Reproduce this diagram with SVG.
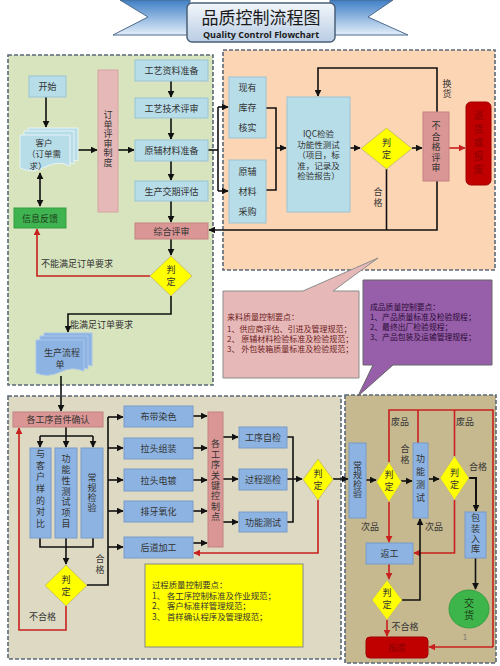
<svg xmlns="http://www.w3.org/2000/svg" width="500" height="666" viewBox="0 0 500 666">
<defs>
<linearGradient id="rib" x1="0" y1="0" x2="0" y2="1"><stop offset="0" stop-color="#3f7fc6"/><stop offset="1" stop-color="#e3eef9"/></linearGradient>
<linearGradient id="tb" x1="0" y1="0" x2="0" y2="1"><stop offset="0" stop-color="#f2f6fb"/><stop offset="1" stop-color="#b9cde4"/></linearGradient>
<marker id="ab" viewBox="0 0 10 10" refX="9" refY="5" markerWidth="7" markerHeight="7" markerUnits="userSpaceOnUse" orient="auto-start-reverse"><path d="M0,0 L10,5 L0,10 z" fill="#111"/></marker>
<marker id="ar" viewBox="0 0 10 10" refX="9" refY="5" markerWidth="7" markerHeight="7" markerUnits="userSpaceOnUse" orient="auto"><path d="M0,0 L10,5 L0,10 z" fill="#c8201e"/></marker>
<style>
.t{font-family:"Noto Sans CJK SC","Noto Sans",sans-serif;font-size:9px;fill:#333;text-anchor:middle}
.s{text-anchor:start}
.v{writing-mode:vertical-rl}
.pan{stroke:#5a6878;stroke-width:1.6;stroke-dasharray:4 2}
.lb{fill:#b7dde8;stroke:#9cc3d3;stroke-width:1}
.mb{fill:#8db3e2;stroke:#7a9cc8;stroke-width:1}
.pk{fill:#e6b9b8;stroke:#d4a3a2;stroke-width:1}
.pd{fill:#d99694;stroke:#c48280;stroke-width:1}
.dm{fill:#ffff00;stroke:#c9c070;stroke-width:1}
.rd{fill:#c00000;stroke:#a00000;stroke-width:1}
.k{fill:none;stroke:#111;stroke-width:1.6}
.ka{fill:none;stroke:#111;stroke-width:1.6;marker-end:url(#ab)}
.r{fill:none;stroke:#c8201e;stroke-width:1.6}
.ra{fill:none;stroke:#c8201e;stroke-width:1.6;marker-end:url(#ar)}
</style>
</defs>
<rect width="500" height="666" fill="#ffffff"/>

<g id="title">
<polygon points="190,0 120,0 148,17 113,35 190,35" fill="url(#rib)" stroke="#4d6b8c" stroke-width="1"/>
<polygon points="330,0 393,0 368,17 408,35 330,35" fill="url(#rib)" stroke="#4d6b8c" stroke-width="1"/>
<rect x="226" y="0" width="70" height="4" fill="#ffffff"/>
<rect x="187" y="3" width="148" height="39" rx="5" fill="url(#tb)" stroke="#4a6078" stroke-width="1.5"/>
<text x="261" y="24" class="t" style="font-size:17px;fill:#1a1a1a">品质控制流程图</text>
<text x="261" y="38" class="t" style="font-family:'Open Sans','Liberation Sans',sans-serif;font-size:9px;font-weight:bold;fill:#1a1a1a">Quality Control Flowchart</text>
</g>

<g id="panels">
<rect x="8" y="55" width="205" height="330" fill="#d7e4bd" class="pan"/>
<rect x="223" y="50" width="272" height="220" fill="#fcd5b4" class="pan"/>
<rect x="8" y="396" width="333" height="263" fill="#ddd9c3" class="pan"/>
<rect x="345" y="395" width="151" height="268" fill="#c6b88f" class="pan"/>
</g>

<g id="connectors">
<path class="ka" d="M46,97 V127"/>
<path class="k" d="M40,173 V206" marker-start="url(#ab)" marker-end="url(#ab)"/>
<path class="ka" d="M77,150 H97"/>
<path class="ka" d="M118,150 H134"/>
<path class="ka" d="M171,81 V97"/>
<path class="ka" d="M171,118 V139"/>
<path class="ka" d="M171,161 V180"/>
<path class="ka" d="M171,201 V222"/>
<path class="ka" d="M171,239 V255"/>
<path class="ra" d="M150,276 H37 V229"/>
<path class="ka" d="M171,296 V314 H68 V332"/>
<path class="ka" d="M61,376 V411"/>
<path class="k" d="M208,150 H218"/>
<path class="k" d="M218,107 V191"/>
<path class="ka" d="M218,107 H228"/>
<path class="ka" d="M218,191 H228"/>
<path class="k" d="M266,108 H276 V190 H266"/>
<path class="ka" d="M276,148 H286"/>
<path class="ka" d="M350,148 H360"/>
<path class="ka" d="M412,148 H422"/>
<path class="ra" d="M449,148 H465"/>
<path class="ka" d="M437,112 V68 H318 V96"/>
<path class="k" d="M386.5,169 V230"/>
<path class="ka" d="M437,181 V230 H209"/>
<path class="k" d="M66,427 V436 M40,436 H93"/>
<path class="ka" d="M40,436 V447"/>
<path class="ka" d="M66,436 V447"/>
<path class="ka" d="M93,436 V447"/>
<path class="k" d="M40,538 V547 H93 V538"/>
<path class="ka" d="M66,538 V564"/>
<path class="k" d="M87,585 H108 V417"/>
<path class="ka" d="M108,417 H123"/>
<path class="ka" d="M108,448 H123"/>
<path class="ka" d="M108,480 H123"/>
<path class="ka" d="M108,511 H123"/>
<path class="ka" d="M108,547 H123"/>
<path class="ra" d="M66,606 V630 H19 V428"/>
<path class="ka" d="M193,416 H207"/>
<path class="ka" d="M193,448 H207"/>
<path class="ka" d="M193,480 H207"/>
<path class="ka" d="M193,511 H207"/>
<path class="ka" d="M193,543 H207"/>
<path class="ka" d="M223,437 H238"/>
<path class="ka" d="M223,479 H238"/>
<path class="ka" d="M223,522 H238"/>
<path class="k" d="M287,437 H293 V522 H287"/>
<path class="ka" d="M287,479 H302"/>
<path class="ka" d="M333,479 H348"/>
<path class="ra" d="M318,500 V553 H194"/>
<path class="ka" d="M366,480 H376"/>
<path class="ka" d="M401,481 H412"/>
<path class="ka" d="M429,479 H439"/>
<path class="ka" d="M469,478 H476 V511" style="stroke-width:2"/>
<path class="ka" d="M475.5,558 V589"/>
<path class="ra" d="M389,502 V542"/>
<path class="ra" d="M454.5,500 V553 H414"/>
<path class="ra" d="M389,564 V579"/>
<path class="ka" d="M402,600 H420 V519"/>
<path class="ra" d="M387,620 V636"/>
<path class="r" d="M389,462 V410 H493 V647"/>
<path class="ra" d="M493,647 H429"/>
<path class="r" d="M418,443 V410"/>
<path class="r" d="M454.5,456 V410"/>
</g>

<g id="n-start"><rect x="29" y="76" width="37" height="21" class="lb"/><text x="47.5" y="90" class="t">开始</text></g>
<g id="n-customer">
<path d="M28,128 H78 V161 Q66,156 53,162 Q40,168 28,163 Z" class="lb" style="stroke:#e8f4f8"/>
<path d="M24,131 H74 V164 Q62,159 49,165 Q36,171 24,166 Z" class="lb" style="stroke:#e8f4f8"/>
<path d="M20,135 H70 V166 Q58,160 45,167 Q32,174 20,168 Z" class="lb" style="stroke:#e8f4f8"/>
<text class="t" style="font-size:8.5px"><tspan x="44" y="145.5">客户</tspan><tspan x="44" y="157">（订单需</tspan><tspan x="38" y="168.5">求）</tspan></text>
</g>
<g id="n-feedback"><rect x="14" y="208" width="52" height="20" fill="#3fb34f" stroke="#35a043"/><text x="40" y="221.5" class="t" style="fill:#1e3e1e">信息反馈</text></g>
<g id="n-orderreview"><rect x="98" y="70" width="20" height="142" class="pk"/>
<text class="t v" x="108" y="139" style="letter-spacing:0.5px">订单评审制度</text></g>
<g id="n-p1"><rect x="135" y="60" width="73" height="21" class="lb"/><text x="171.5" y="74" class="t">工艺资料准备</text></g>
<g id="n-p2"><rect x="135" y="98" width="73" height="20" class="lb"/><text x="171.5" y="111.5" class="t">工艺技术评审</text></g>
<g id="n-p3"><rect x="135" y="140" width="73" height="21" class="lb"/><text x="171.5" y="154" class="t">原辅材料准备</text></g>
<g id="n-p4"><rect x="135" y="181" width="73" height="20" class="lb"/><text x="171.5" y="194.5" class="t">生产交期评估</text></g>
<g id="n-review"><rect x="135" y="223" width="73" height="16" class="pd"/><text x="171.5" y="234.5" class="t">综合评审</text></g>
<g id="n-judge1"><polygon points="171,256 192,276 171,296 150,276" class="dm"/><text class="t v" x="171" y="277.5" style="letter-spacing:3px">判定</text></g>
<text x="41" y="267" class="t s">不能满足订单要求</text>
<text x="70" y="328" class="t s">能满足订单要求</text>
<g id="n-prodsheet">
<path d="M44,333 H92 V366 Q80,361 68,367 Q56,373 44,368 Z" class="mb" style="stroke:#aac6ea"/>
<path d="M40,336 H88 V369 Q76,364 64,370 Q52,376 40,371 Z" class="mb" style="stroke:#aac6ea"/>
<path d="M36,340 H84 V371 Q72,366 60,372 Q48,378 36,373 Z" class="mb" style="stroke:#aac6ea"/>
<text class="t"><tspan x="62" y="356">生产流程</tspan><tspan x="60" y="368">单</tspan></text>
</g>

<g id="n-stock"><rect x="229" y="77" width="37" height="61" class="lb"/><text class="t"><tspan x="247.5" y="91">现有</tspan><tspan x="247.5" y="111">库存</tspan><tspan x="247.5" y="131">核实</tspan></text></g>
<g id="n-purchase"><rect x="229" y="160" width="37" height="63" class="lb"/><text class="t"><tspan x="247.5" y="175">原辅</tspan><tspan x="247.5" y="195">材料</tspan><tspan x="247.5" y="215">采购</tspan></text></g>
<g id="n-iqc"><rect x="287" y="97" width="63" height="115" class="lb"/>
<text class="t" style="font-size:8.5px"><tspan x="318.5" y="137">IQC检验</tspan><tspan x="318.5" y="147.5">功能性测试</tspan><tspan x="318.5" y="158">（项目，标</tspan><tspan x="318.5" y="168.5">准，记录及</tspan><tspan x="318.5" y="179">检验报告）</tspan></text></g>
<g id="n-judge2"><polygon points="386.5,128 412,148.5 386.5,169 361,148.5" class="dm"/><text class="t v" x="386.5" y="150" style="letter-spacing:3px">判定</text></g>
<g id="n-ncreview"><rect x="423" y="112" width="26" height="69" class="pd"/>
<text class="t v" x="436" y="147.5" style="letter-spacing:1.5px">不合格评审</text></g>
<g id="n-return"><rect x="466" y="102" width="25" height="83" rx="5" class="rd"/>
<text class="t v" x="478.5" y="144" style="font-size:10px;letter-spacing:3.5px;fill:#8e0000">退货或报废</text></g>
<text class="t v" x="447" y="89" style="letter-spacing:1px">换货</text>
<text class="t v" x="378" y="198" style="letter-spacing:1.5px">合格</text>

<g id="c-incoming">
<path d="M223,291 H303 L378,258 L333,291 H359 V378 H223 Z" fill="#e6b9b8" stroke="#8c8c8c" stroke-width="1"/>
<text class="t s" style="font-size:8px;fill:#6e1c1c"><tspan x="227" y="320">来料质量控制要点：</tspan><tspan x="227" y="332">1、供应商评估、引进及管理规范；</tspan><tspan x="227" y="342">2、 原辅材料检验标准及检验规范；</tspan><tspan x="227" y="352">3、 外包装箱质量标准及检验规范；</tspan></text>
</g>
<g id="c-finished">
<path d="M363,280 H492 V365 H393 L358,396 L373,365 H363 Z" fill="#975ea9" stroke="#666" stroke-width="1"/>
<text class="t s" style="font-size:7.8px;fill:#2a0a36"><tspan x="370" y="310">成品质量控制要点：</tspan><tspan x="370" y="320">1、产品质量标准及检验规程；</tspan><tspan x="370" y="330">2、最终出厂检验规程；</tspan><tspan x="370" y="340">3、产品包装及运输管理规程；</tspan></text>
</g>

<g id="n-firstpiece"><rect x="13" y="412" width="90" height="15" class="pd"/><text x="58" y="423" class="t">各工序首件确认</text></g>
<g id="n-compare"><rect x="30" y="448" width="21" height="90" class="mb"/>
<text class="t v" x="40.5" y="490" style="letter-spacing:2.7px">与客户样的对比</text></g>
<g id="n-functest"><rect x="55" y="448" width="22" height="90" class="mb"/>
<text class="t v" x="66" y="492" style="letter-spacing:1.8px">功能性测试项目</text></g>
<g id="n-routine1"><rect x="81" y="448" width="22" height="90" class="mb"/>
<text class="t v" x="92" y="493" style="letter-spacing:1px">常规检验</text></g>
<g id="n-judge3"><polygon points="66,565 87,585.5 66,606 45,585.5" class="dm"/><text class="t v" x="66" y="587" style="letter-spacing:3px">判定</text></g>
<text class="t v" x="100" y="565" style="letter-spacing:2px">合格</text>
<text x="42.5" y="620" class="t">不合格</text>
<g id="n-dye"><rect x="124" y="406" width="69" height="21" class="mb"/><text x="158.5" y="420" class="t">布带染色</text></g>
<g id="n-assemble"><rect x="124" y="438" width="69" height="21" class="mb"/><text x="158.5" y="452" class="t">拉头组装</text></g>
<g id="n-plate"><rect x="124" y="469" width="69" height="22" class="mb"/><text x="158.5" y="483.5" class="t">拉头电镀</text></g>
<g id="n-oxid"><rect x="124" y="501" width="69" height="21" class="mb"/><text x="158.5" y="515" class="t">排牙氧化</text></g>
<g id="n-post"><rect x="124" y="537" width="69" height="21" class="mb"/><text x="158.5" y="551" class="t">后道加工</text></g>
<g id="n-keyctrl"><rect x="208" y="412" width="15" height="135" class="pd"/>
<text class="t v" x="215.5" y="481" style="letter-spacing:1.4px">各工序关键控制点</text></g>
<g id="n-selfcheck"><rect x="239" y="427" width="48" height="21" class="mb"/><text x="263" y="441" class="t">工序自检</text></g>
<g id="n-patrol"><rect x="239" y="469" width="48" height="21" class="mb"/><text x="263" y="483" class="t">过程巡检</text></g>
<g id="n-functest2"><rect x="239" y="512" width="48" height="20" class="mb"/><text x="263" y="525.5" class="t">功能测试</text></g>
<g id="n-judge4"><polygon points="318,459 333,479.5 318,500 303,479.5" class="dm"/><text class="t v" x="318" y="481" style="letter-spacing:3px">判定</text></g>
<g id="c-process">
<rect x="145" y="564" width="158" height="83" fill="#ffff00" stroke="#888" stroke-width="1"/>
<text class="t s" style="font-size:8.4px"><tspan x="152" y="588">过程质量控制要点：</tspan><tspan x="152" y="598.5">1、 各工序控制标准及作业规范；</tspan><tspan x="152" y="609">2、 客户标准样管理规范；</tspan><tspan x="152" y="620">3、 首样确认程序及管理规范；</tspan></text>
</g>

<g id="n-routine2"><rect x="349" y="443" width="17" height="75" class="mb"/>
<text class="t v" x="357.5" y="480" style="letter-spacing:0.5px">常规检验</text></g>
<g id="n-judge5"><polygon points="389,462 401.5,482 389,502 376.5,482" class="dm"/><text class="t v" x="389" y="482.5" style="letter-spacing:3px">判定</text></g>
<g id="n-functest3"><rect x="413" y="443" width="15" height="75" class="mb"/>
<text class="t v" x="420.5" y="480" style="letter-spacing:4px">功能测试</text></g>
<g id="n-judge6"><polygon points="454.5,456 469,478 454.5,500 440,478" class="dm"/><text class="t v" x="454.5" y="480.5" style="letter-spacing:3px">判定</text></g>
<g id="n-pack"><rect x="465" y="512" width="21" height="46" class="mb"/>
<text class="t v" x="475.5" y="534" style="letter-spacing:1.3px">包装入库</text></g>
<g id="n-deliver"><ellipse cx="469" cy="609" rx="20" ry="19" fill="#3db54a" stroke="#33a040"/><text class="t v" x="469" y="610" style="font-size:10px;letter-spacing:2px;fill:#1a3f1a">交货</text></g>
<text x="465" y="640" class="t" style="font-size:8px;fill:#777">1</text>
<g id="n-rework"><rect x="366" y="543" width="47" height="21" class="mb"/><text x="389.5" y="557" class="t">返工</text></g>
<g id="n-judge7"><polygon points="387,580 402,600 387,620 372,600" class="dm"/><text class="t v" x="387" y="600.5" style="letter-spacing:3px">判定</text></g>
<g id="n-scrap"><rect x="366" y="637" width="62" height="21" rx="4" class="rd"/><text x="397" y="651" class="t" style="fill:#8e0000">报废</text></g>
<text x="400" y="425" class="t">废品</text>
<text x="465" y="425" class="t">废品</text>
<text class="t v" x="405" y="455" style="letter-spacing:1.5px">合格</text>
<text x="478" y="470" class="t">合格</text>
<text x="370" y="530" class="t">次品</text>
<text x="434" y="530" class="t">次品</text>
<text x="405" y="630" class="t">不合格</text>
</svg>
